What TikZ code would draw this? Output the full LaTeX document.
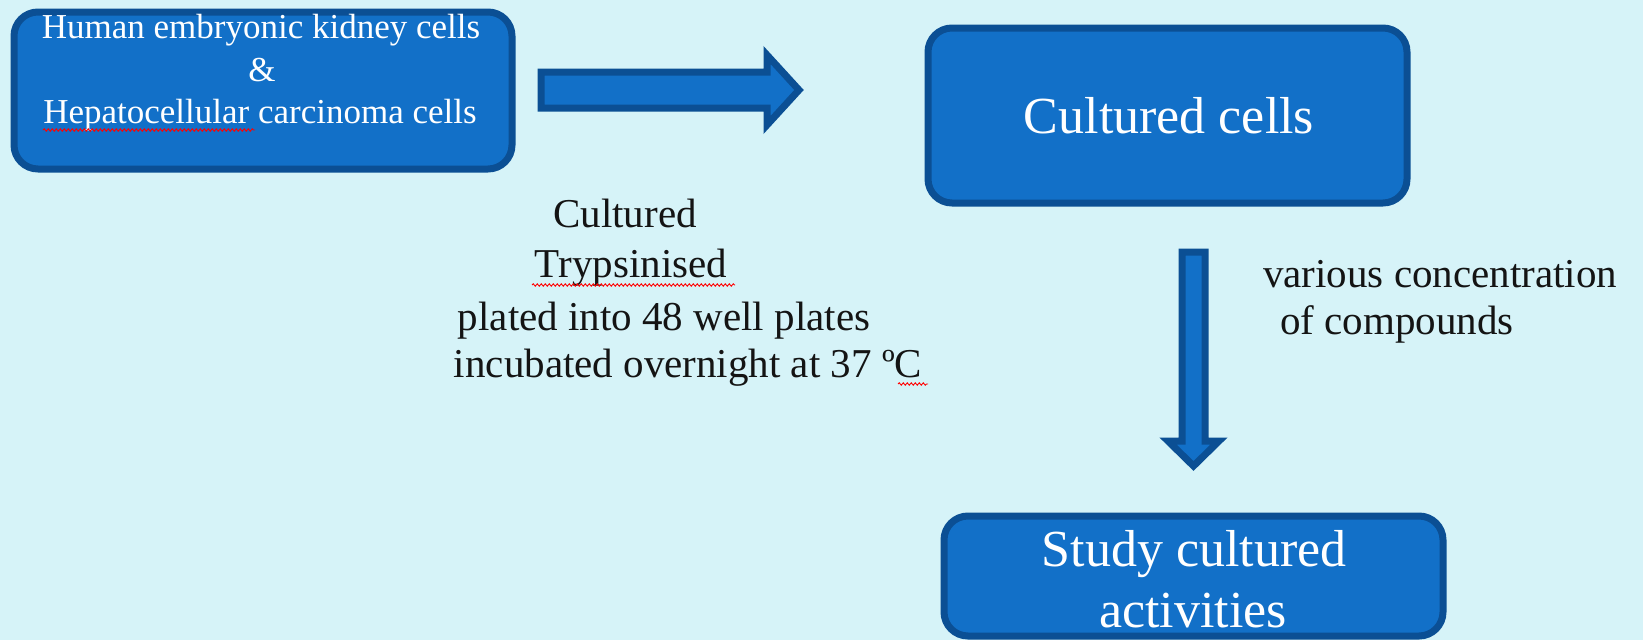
\documentclass[tikz,border=0pt]{standalone}
\usepackage{fontspec}
\setmainfont{Liberation Serif}
\usetikzlibrary{decorations.pathmorphing}
\definecolor{bg}{HTML}{D6F3F8}
\definecolor{boxfill}{HTML}{1270C8}
\definecolor{boxline}{HTML}{0B4F94}
\definecolor{ink}{HTML}{141414}
\tikzset{
 box/.style={draw=boxline, fill=boxfill, line width=7pt, rounded corners=24pt, inner sep=0pt},
 blockarrow/.style={draw=boxline, fill=boxfill, line width=7pt, line join=miter},
 boxtext/.style={text=white, inner sep=0pt, anchor=base},
 note/.style={text=ink, inner sep=0pt},
 squiggle/.style={draw=red, line width=0.9pt, decorate, decoration={snake, amplitude=1.2pt, segment length=4pt}}
}
\begin{document}
\begin{tikzpicture}[x=1pt,y=-1pt]
\fill[bg] (0,0) rectangle (1643,640);
\useasboundingbox (0,0) rectangle (1643,640);
% boxes
\node[box, minimum width=498pt, minimum height=157pt] (b1) at (263,90.5) {};
\node[box, minimum width=479pt, minimum height=175pt] (b2) at (1167.5,115.5) {};
\node[box, minimum width=499pt, minimum height=120pt] (b3) at (1193.5,576) {};
% box texts
\node[boxtext, font=\fontsize{35}{42}\selectfont] (l1) at (261,38) {Human embryonic kidney cells};
\node[boxtext, font=\fontsize{35}{42}\selectfont] (l2) at (262,81) {\&};
\node[boxtext, font=\fontsize{35}{42}\selectfont] (l3) at (260,123) {Hepatocellular carcinoma cells};
\node[boxtext, font=\fontsize{52}{60}\selectfont] (c1) at (1169,133) {Cultured cells};
\node[boxtext, font=\fontsize{52}{60}\selectfont] (s1) at (1194,566) {Study cultured};
\node[boxtext, font=\fontsize{52}{60}\selectfont] (s2) at (1193,627) {activities};
% block arrows
\draw[blockarrow] (541,72) -- (767,72) -- (767,55) -- (799,90) -- (767,125) -- (767,108) -- (541,108) -- cycle;
\draw[blockarrow] (1182,252) -- (1205,252) -- (1205,441) -- (1219,441) -- (1193.5,466) -- (1168,441) -- (1182,441) -- cycle;
% notes
\node[note, anchor=base, font=\fontsize{41}{50}\selectfont] (n1) at (625,227) {Cultured};
\node[note, anchor=base, font=\fontsize{41}{50}\selectfont] (n2) at (631,277) {Trypsinised};
\node[note, anchor=base, font=\fontsize{41}{50}\selectfont] (n3) at (664,330) {plated into 48 well plates};
\node[note, anchor=base, font=\fontsize{41}{50}\selectfont] (n4) at (688,377) {incubated overnight at 37 ºC};
\node[note, anchor=base west, font=\fontsize{41}{50}\selectfont] (v1) at (1263,287) {various concentration};
\node[note, anchor=base west, font=\fontsize{41}{50}\selectfont] (v2) at (1280,334) {of compounds};
% spell-check marks
\draw[squiggle] (43,130) -- (255,130);
\draw[squiggle] (532,285) -- (735,285);
\draw[squiggle] (898,384) -- (928,384);
\end{tikzpicture}
\end{document}
